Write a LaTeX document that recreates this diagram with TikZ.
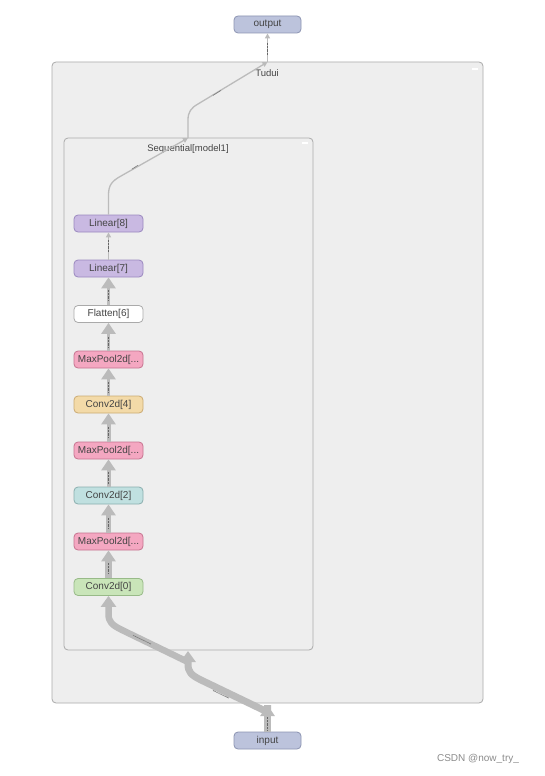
\documentclass[tikz,border=0pt]{standalone}
\usepackage{fontspec}
\setmainfont{Liberation Sans}
\usetikzlibrary{arrows.meta}
\definecolor{boxfill}{HTML}{EEEEEE}
\definecolor{boxline}{HTML}{AAAAAA}
\definecolor{edgegray}{HTML}{BBBBBB}
\definecolor{txt}{HTML}{444444}
\definecolor{iofill}{HTML}{BCC3DC}
\definecolor{ioline}{HTML}{8C94B2}
\definecolor{linfill}{HTML}{C9B9E2}
\definecolor{linline}{HTML}{9A88BF}
\definecolor{mpfill}{HTML}{F4A7C1}
\definecolor{mpline}{HTML}{C6738F}
\definecolor{c4fill}{HTML}{F3DAA8}
\definecolor{c4line}{HTML}{CBAA72}
\definecolor{c2fill}{HTML}{C0E0E0}
\definecolor{c2line}{HTML}{8AAEAE}
\definecolor{c0fill}{HTML}{C9E5B9}
\definecolor{c0line}{HTML}{98BA88}
\tikzset{
  op/.style={draw, rounded corners=4pt, minimum width=69pt, minimum height=17pt, inner sep=0pt, font=\fontsize{10}{12}\selectfont, text=txt, line width=0.8pt},
  grp/.style={draw=boxline, fill=boxfill, rounded corners=4pt, line width=0.8pt},
  thickedge/.style={draw=edgegray, line width=#1, -{Triangle[length=11pt,width=14pt]}},
  thinedge/.style={draw=edgegray, line width=1.3pt, -{Triangle[length=5pt,width=5pt]}},
  lbl/.style={draw=black!60, line width=1.2pt, dash pattern=on 0.8pt off 0.6pt},
  dlbl/.style={draw=black!55, line width=0.7pt, dash pattern=on 0.7pt off 0.5pt},
  grptitle/.style={font=\fontsize{9.5}{11}\selectfont, text=txt},
}
\begin{document}
\begin{tikzpicture}[x=1pt,y=-1pt]
\useasboundingbox (0,0) rectangle (545,776);
\fill[white] (0,0) rectangle (545,776);
% groups
\draw[grp] (52,62) rectangle (483,703);
\node[grptitle] (tudui) at (267,73) {Tudui};
\draw[white, line width=1.2pt] (472,69) -- (478,69);
\draw[grp] (64,138) rectangle (313,650);
\node[grptitle] (seq) at (188,149) {Sequential[model1]};
\draw[white, line width=1.2pt] (302,143) -- (308,143);
% nodes
\node[op, fill=iofill, draw=ioline, minimum width=67pt] (output) at (267.5,24.5) {output};
\node[op, fill=iofill, draw=ioline, minimum width=67pt] (input) at (267.5,740.5) {input};
\node[op, fill=linfill, draw=linline] (lin8) at (108.5,223.5) {Linear[8]};
\node[op, fill=linfill, draw=linline] (lin7) at (108.5,268.5) {Linear[7]};
\node[op, fill=white, draw=boxline] (flat) at (108.5,314) {Flatten[6]};
\node[op, fill=mpfill, draw=mpline] (mp5) at (108.5,359.5) {MaxPool2d[...};
\node[op, fill=c4fill, draw=c4line] (c4) at (108.5,404.5) {Conv2d[4]};
\node[op, fill=mpfill, draw=mpline] (mp3) at (108.5,450.5) {MaxPool2d[...};
\node[op, fill=c2fill, draw=c2line] (c2) at (108.5,495.5) {Conv2d[2]};
\node[op, fill=mpfill, draw=mpline] (mp1) at (108.5,541.5) {MaxPool2d[...};
\node[op, fill=c0fill, draw=c0line] (c0) at (108.5,587) {Conv2d[0]};
% coordinates
\coordinate (inTop) at (267.5,705);
\coordinate (seqBot) at (188,651);
\coordinate (seqTop) at (188,138);
\coordinate (tudTop) at (267.5,62);
% edges between ops
\draw[thickedge=6.5pt] (c0) -- (mp1);
\draw[thickedge=5pt] (mp1) -- (c2);
\draw[thickedge=4pt] (c2) -- (mp3);
\draw[thickedge=4pt] (mp3) -- (c4);
\draw[thickedge=3.2pt] (c4) -- (mp5);
\draw[thickedge=3.2pt] (mp5) -- (flat);
\draw[thickedge=3pt] (flat) -- (lin7);
\draw[thinedge] (lin7) -- (lin8);
% edge labels (tiny shape labels)
\foreach \ya/\yb in {563/574, 518/529, 472/484, 427/438, 382/393, 337/348, 290/301}
  \draw[lbl] (108.5,\ya) -- (108.5,\yb);
\draw[lbl, line width=0.9pt] (108.5,240) -- (108.5,252);
% bottom thick path
\draw[thickedge=7pt] (input) -- (inTop);
\draw[draw=edgegray, line width=7pt, line join=round, -{Triangle[length=11pt,width=15pt]}]
  (inTop) -- (267.5,712) -- (201,680) .. controls (191,675) and (188,672) .. (188,664) -- (seqBot);
\draw[draw=edgegray, line width=6.5pt, line join=round, -{Triangle[length=11pt,width=15pt]}]
  (188,662) -- (122,630) .. controls (112,625) and (108.5,622) .. (108.5,614) -- (c0);
\draw[lbl] (267.5,717) -- (267.5,730);
\draw[dlbl] (213,690.5) -- (229,698.2);
\draw[dlbl] (133,635.3) -- (151,644);
% top thin path
\draw[thinedge, line join=round] (lin8) -- (108.5,195) .. controls (108.5,185) and (112,181) .. (121,176) -- (seqTop);
\draw[thinedge, line join=round] (seqTop) -- (188,120) .. controls (188,112) and (191,108) .. (198,104) -- (tudTop);
\draw[thinedge] (tudTop) -- (output);
\draw[lbl, line width=1.3pt] (267.5,43) -- (267.5,55);
\draw[dlbl] (213,95.3) -- (221,90.4);
\draw[dlbl] (132,169) -- (138,165.2);
% watermark
\node[font=\fontsize{10}{12}\selectfont, text=black!45] (wm) at (478,759) {CSDN @now\_try\_};
\end{tikzpicture}
\end{document}
